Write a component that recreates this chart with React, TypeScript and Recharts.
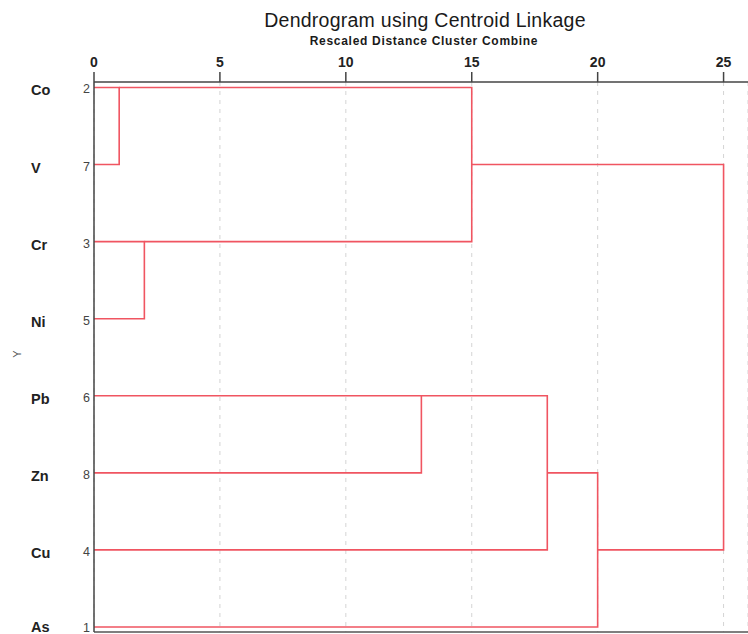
import React from 'react';
import { LineChart, Line, XAxis, YAxis, CartesianGrid } from 'recharts';

// Leaves (top to bottom) and their case numbers
const leafNames = ['Co', 'V', 'Cr', 'Ni', 'Pb', 'Zn', 'Cu', 'As'];
const caseNumbers = [2, 7, 3, 5, 6, 8, 4, 1];

// Merges: distance, top child row & start height, bottom child row & start height
const mergeDistance = [1, 2, 15, 13, 18, 20, 25];
const topRow = [0, 2, 0, 4, 4, 5, 1];
const topFrom = [0, 0, 1, 0, 13, 18, 15];
const bottomRow = [1, 3, 2, 5, 6, 7, 6];
const bottomFrom = [0, 0, 2, 0, 0, 0, 20];

const xTicks = [0, 5, 10, 15, 20, 25];
const rowTicks = [0, 1, 2, 3, 4, 5, 6, 7];

const title = 'Dendrogram using Centroid Linkage';
const subtitle = 'Rescaled Distance Cluster Combine';

const FONT = '"Liberation Sans", Arial, sans-serif';
const LINK = '#f05561';

const links = mergeDistance.map((d, i) => [
  { x: topFrom[i], y: topRow[i] },
  { x: d, y: topRow[i] },
  { x: d, y: bottomRow[i] },
  { x: bottomFrom[i], y: bottomRow[i] },
]);

const RowTick = (props: any) => {
  const { x, y, payload } = props;
  const i = payload.value as number;
  const numBase = Math.min(y + 6, 632);
  const nameBase = Math.min(y + 8, 632);
  return (
    <g>
      <text x={x} y={numBase} textAnchor="end" fontSize={12.5} fill="#444" fontFamily={FONT}>
        {caseNumbers[i]}
      </text>
      <text x={31} y={nameBase} textAnchor="start" fontSize={14.5} fontWeight="bold" fill="#222" fontFamily={FONT}>
        {leafNames[i]}
      </text>
    </g>
  );
};

export default function App() {
  return (
    <div style={{ position: 'absolute', left: 0, top: 0, width: 748, height: 634, background: '#fff', fontFamily: FONT }}>
      <div style={{ position: 'absolute', left: 0, width: 850, top: 9, textAlign: 'center', fontSize: 19.5, letterSpacing: 0.25, color: '#1a1a1a', lineHeight: '22px', whiteSpace: 'nowrap' }}>
        {title}
      </div>
      <div style={{ position: 'absolute', left: 0, width: 848, top: 34, textAlign: 'center', fontSize: 12, letterSpacing: 0.7, fontWeight: 'bold', color: '#1a1a1a', lineHeight: '14px', whiteSpace: 'nowrap' }}>
        {subtitle}
      </div>
      <div style={{ position: 'absolute', left: 10, top: 348, fontSize: 11, color: '#555', transform: 'rotate(-90deg)', transformOrigin: 'center', width: 14, textAlign: 'center' }}>
        Y
      </div>
      <LineChart width={748} height={634} margin={{ top: 52, right: 0, bottom: 0, left: 0 }} style={{ position: 'absolute', left: 0, top: 0 }}>
        <CartesianGrid xAxisId="t" yAxisId="l" horizontal={false} stroke="#d4d4d4" strokeDasharray="4 5" />
        <XAxis
          xAxisId="t"
          type="number"
          dataKey="x"
          orientation="top"
          domain={[0, 25.97]}
          ticks={xTicks}
          allowDataOverflow
          height={30}
          tickSize={10}
          tickMargin={5}
          axisLine={{ stroke: '#444', strokeWidth: 1.5 }}
          tickLine={{ stroke: '#444', strokeWidth: 1.5 }}
          tick={{ fontSize: 14, fontWeight: 'bold', fill: '#222', fontFamily: FONT }}
        />
        <XAxis
          xAxisId="b"
          type="number"
          dataKey="x"
          orientation="bottom"
          domain={[0, 25.97]}
          allowDataOverflow
          height={2}
          tick={false}
          tickLine={false}
          axisLine={{ stroke: '#555', strokeWidth: 1.5 }}
        />
        <YAxis
          yAxisId="l"
          type="number"
          dataKey="y"
          reversed
          domain={[-0.071, 7.065]}
          allowDataOverflow
          ticks={rowTicks}
          width={94}
          tickSize={3}
          tickMargin={1}
          tickLine={false}
          axisLine={{ stroke: '#444', strokeWidth: 1.5 }}
          tick={<RowTick />}
          interval={0}
        />
        {links.map((data, i) => (
          <Line
            key={i}
            xAxisId="t"
            yAxisId="l"
            data={data}
            dataKey="y"
            type="linear"
            stroke={LINK}
            strokeWidth={1.6}
            dot={false}
            activeDot={false}
            isAnimationActive={false}
          />
        ))}
      </LineChart>
    </div>
  );
}
